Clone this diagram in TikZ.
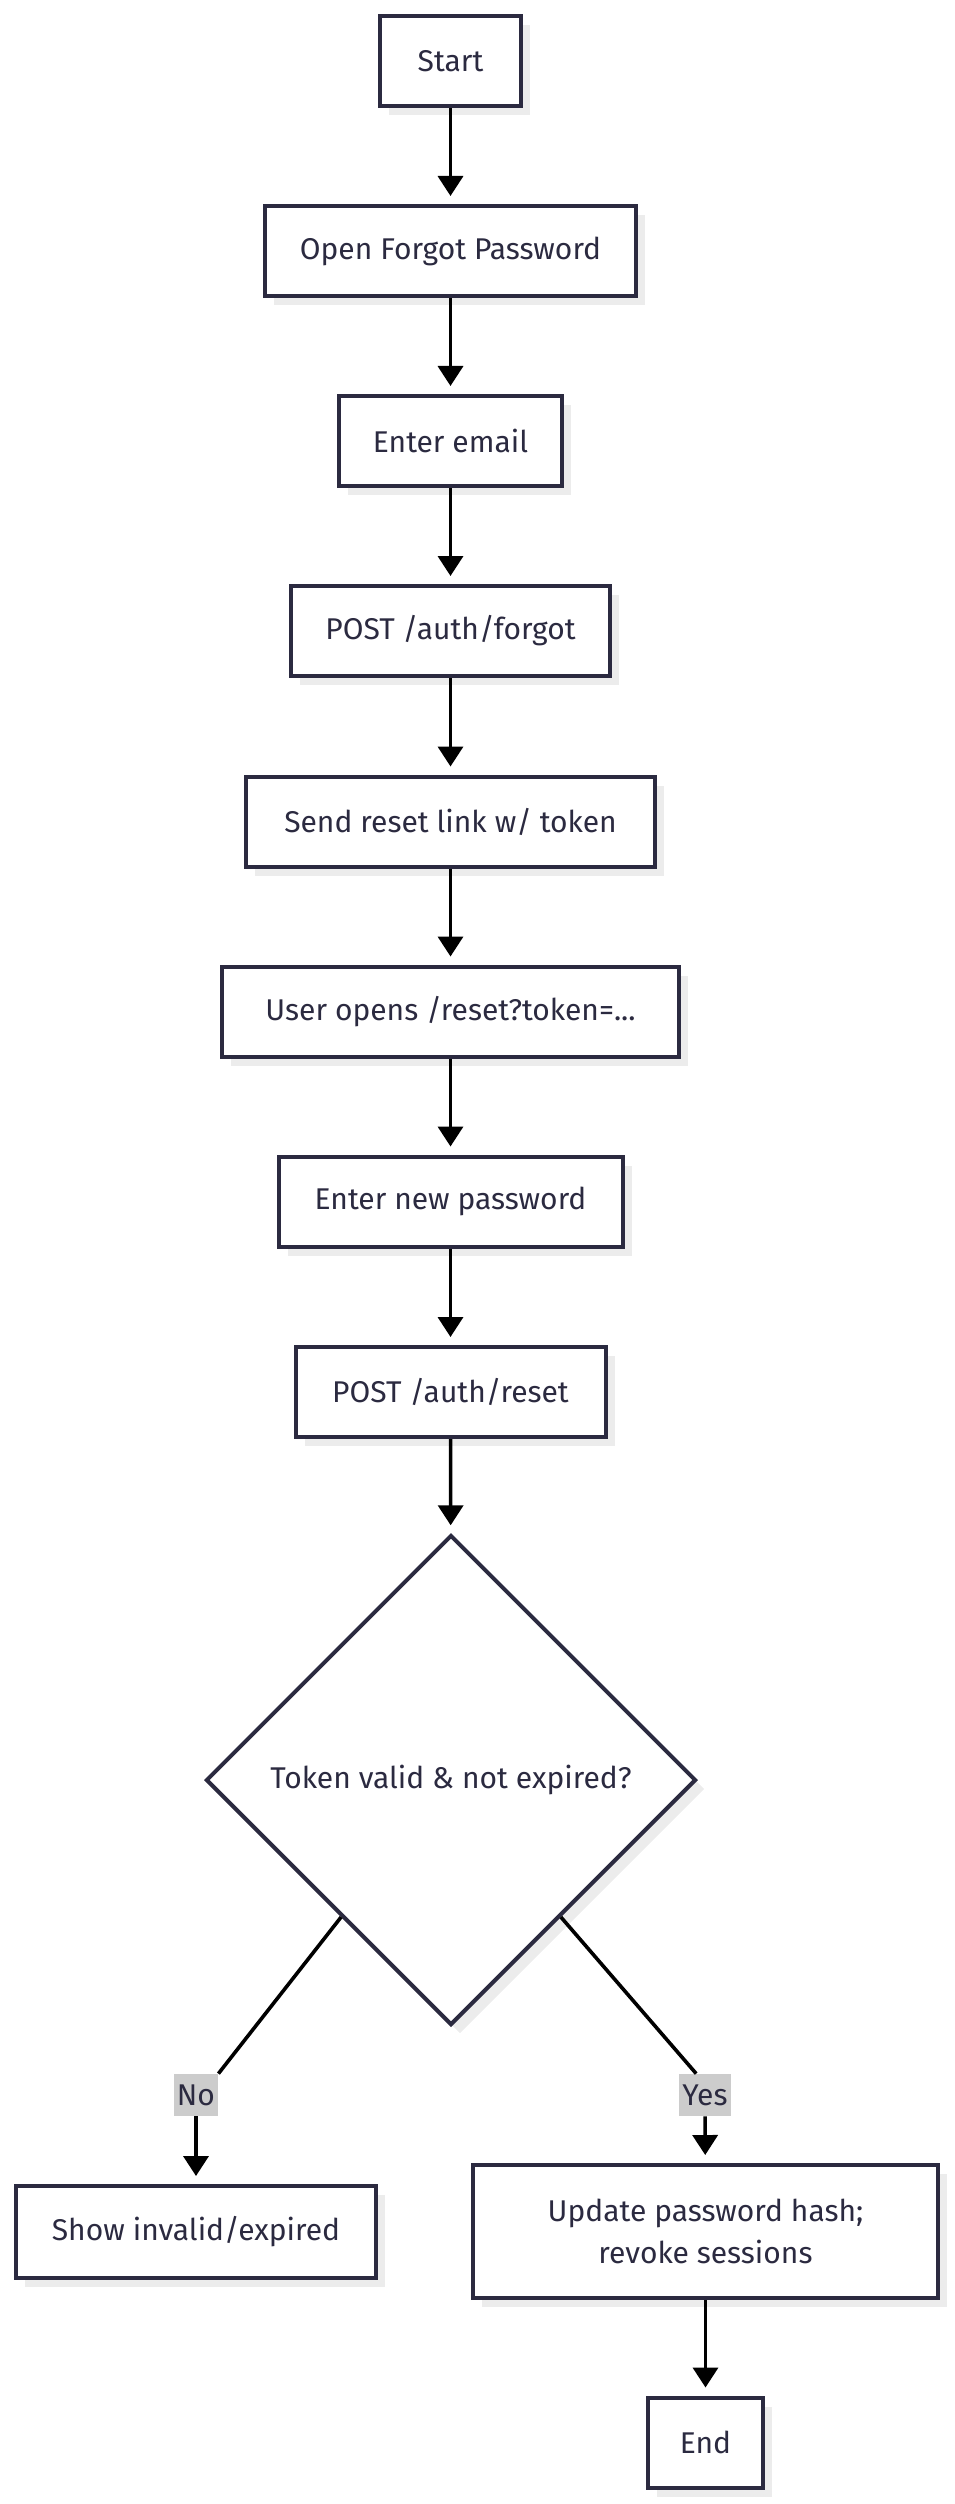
\documentclass[tikz,border=0pt]{standalone}
\usepackage{fontspec}
\setmainfont{Fira Sans}
\usepackage{xcolor}
\usetikzlibrary{shapes.geometric,arrows.meta,shadows,calc}
\definecolor{ink}{HTML}{2B2A40}
\definecolor{shade}{HTML}{ECECEC}
\definecolor{lblgray}{HTML}{CCCCCC}

\begin{document}
\begin{tikzpicture}[x=0.5pt, y=-0.5pt,
		txt/.style={text=ink, font=\fontsize{15}{21}\selectfont},
		box/.style={txt, draw=ink, line width=2pt, fill=white, minimum height=45pt, inner sep=0pt, align=center, drop shadow={shadow xshift=4.5pt, shadow yshift=-4.5pt, fill=shade, opacity=1}},
		dec/.style={txt, diamond, aspect=1, draw=ink, line width=2pt, fill=white, minimum width=245pt, minimum height=245pt, inner sep=0pt, drop shadow={shadow xshift=4.5pt, shadow yshift=-4.5pt, fill=shade, opacity=1}},
		lbl/.style={txt, fill=lblgray, inner xsep=1.5pt, inner ysep=0pt, minimum height=21pt},
		edge/.style={line width=1.8pt, black},
		flow/.style={edge, -{Triangle[length=10pt,width=12.5pt]}, shorten >=4pt}]
				\useasboundingbox (0,0) rectangle (954,2504);
				
				\node[box, minimum width=70.5pt] (start) at (450.5,61.5) {Start};
				\node[box, minimum width=185.5pt] (forgot) at (450.5,251) {Open Forgot Password};
				\node[box, minimum width=111.5pt] (email) at (450.5,441) {Enter email};
				\node[box, minimum width=159.5pt] (postforgot) at (450.5,631) {POST /auth/forgot};
				\node[box, minimum width=204.5pt] (sendlink) at (450.5,821.5) {Send reset link w/ token};
				\node[box, minimum width=228.5pt] (opens) at (450.5,1011.5) {User opens /reset?token=...};
				\node[box, minimum width=172pt] (newpw) at (450.5,1201.5) {Enter new password};
				\node[box, minimum width=155pt] (postreset) at (450.5,1392) {POST /auth/reset};
				\node[dec] (valid) at (451,1780) {Token valid \& not expired?};
				
				\node[lbl] (no) at (196,2095) {No};
				\node[lbl] (yes) at (705,2095) {Yes};
				
				\node[box, minimum width=180pt, minimum height=46pt] (invalid) at (196,2232) {Show invalid/expired};
				\node[box, minimum width=232.5pt, minimum height=66.5pt] (update) at (705.5,2231.5) {Update password hash;\\revoke sessions};
				\node[box, minimum width=57.5pt] (done) at (705.5,2442.5) {End};
				
				\foreach \a/\b in {start/forgot, forgot/email, email/postforgot, postforgot/sendlink, sendlink/opens, opens/newpw, newpw/postreset, postreset/valid}
					\draw[flow] (\a) -- (\b);
				
				\draw[edge] ($(valid.west)!0.555!(valid.south)$) -- (no.north east);
				\draw[flow] (no) -- (invalid);
				\draw[edge] ($(valid.east)!0.555!(valid.south)$) -- ($(yes.north west)!0.33!(yes.north east)$);
				\draw[flow] (yes) -- (update);
				\draw[flow] (update) -- (done);
			\end{tikzpicture}
\end{document}
